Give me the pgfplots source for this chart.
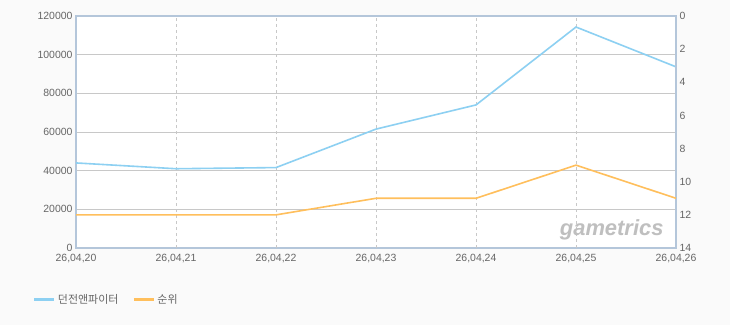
\documentclass[border=0pt]{standalone}
\usepackage{pgfplots}
\pgfplotsset{compat=1.18}
\usepackage{fontspec}
\setmainfont{Liberation Sans}
\newfontfamily\kr{Noto Sans CJK KR}
\definecolor{bg}{HTML}{FAFAFA}
\definecolor{axl}{HTML}{B4C6DA}
\definecolor{grd}{HTML}{C8C8C8}
\definecolor{blu}{HTML}{8DD0F2}
\definecolor{org}{HTML}{FFBF5C}
\definecolor{txt}{HTML}{666666}
\pgfplotstableread{
x v r
0 44000 12
1 41000 12
2 41600 12
3 61500 11
4 74000 11
5 114300 9
6 93700 11
}\data
\begin{document}
\begin{tikzpicture}[x=1bp,y=1bp]
\fill[bg] (-76,-77) rectangle (654,248);
\path[use as bounding box] (-76,-77) rectangle (654,248);
\fill[white] (0,0) rectangle (600,232);
\begin{axis}[
  at={(0,0)}, anchor=south west,
  scale only axis, width=600bp, height=232bp,
  xmin=0, xmax=6, ymin=0, ymax=120000,
  xtick={0,...,6},
  xticklabels={{26,04,20},{26,04,21},{26,04,22},{26,04,23},{26,04,24},{26,04,25},{26,04,26}},
  ytick={0,20000,...,120000},
  scaled y ticks=false,
  yticklabel style={/pgf/number format/.cd,fixed,1000 sep={},assume math mode=true},
  ticklabel style={font=\fontsize{10.5}{12}\selectfont, text=txt},
  xticklabel style={yshift=-3bp},
  tick style={draw=none},
  axis line style={draw=axl, line width=1.5bp},
  ymajorgrids, xmajorgrids,
  major grid style={draw=grd, line width=0.6bp},
  xmajorgrids=false,
  legend style={at={(-0.077,-0.224)}, anchor=west, draw=none, fill=none,
    font=\kr\fontsize{11}{12}\selectfont, text=txt, legend columns=2,
    /tikz/every even column/.append style={column sep=12bp}},
  legend image code/.code={\draw[#1, line width=3bp] (0,0) -- (20bp,0);},
]
\foreach \i in {1,...,5} {\edef\tmp{\noexpand\draw[grd, dashed, line width=0.6bp] (axis cs:\i,0) -- (axis cs:\i,120000);}\tmp}
\addplot[blu, line width=1.6bp] table[x=x,y=v]{\data};
\addlegendentry{던전앤파이터}
\addlegendimage{org, line width=1.6bp}
\addlegendentry{순위}
\node[anchor=south east, text=gray!50, font=\bfseries\itshape\fontsize{22}{24}\selectfont] at (rel axis cs:0.985,0.02) {gametrics};
\end{axis}
\begin{axis}[
  at={(0,0)}, anchor=south west,
  scale only axis, width=600bp, height=232bp,
  xmin=0, xmax=6, ymin=0, ymax=14, y dir=reverse,
  axis y line*=right, axis x line=none,
  ytick={0,2,...,14},
  yticklabel style={/pgf/number format/assume math mode=true},
  ticklabel style={font=\fontsize{10.5}{12}\selectfont, text=txt},
  tick style={draw=none},
  axis line style={draw=axl, line width=1.5bp},
]
\addplot[org, line width=1.6bp] table[x=x,y=r]{\data};
\end{axis}
\end{tikzpicture}
\end{document}
